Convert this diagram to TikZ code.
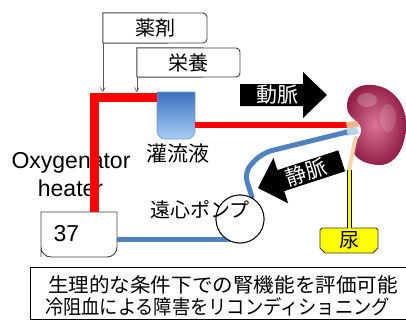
\documentclass[tikz,border=0pt]{standalone}
\usepackage{fontspec}
\usepackage{graphicx}
\setmainfont{Liberation Sans}
\newfontfamily\jp{Noto Sans CJK JP}
\usetikzlibrary{arrows.meta}

\definecolor{pipered}{HTML}{FF0000}
\definecolor{veinblue}{HTML}{4F81BD}
\definecolor{bagtop}{HTML}{3C70BE}
\definecolor{bagbot}{HTML}{A8CDF6}
\definecolor{bagedge}{HTML}{7A98C8}
\definecolor{kidin}{HTML}{DA7495}
\definecolor{kidout}{HTML}{921E47}
\definecolor{ureter}{HTML}{F4D2AE}
\definecolor{artbit}{HTML}{EDB48E}
\definecolor{veinbit}{HTML}{B5D4E6}
\definecolor{urineyel}{HTML}{FFFF00}
\definecolor{edgegray}{HTML}{404040}

\begin{document}
\begin{tikzpicture}[x=1pt,y=-1pt,
  jptext/.style={font=\jp\fontsize{20}{22}\selectfont, inner sep=0pt},
  entext/.style={font=\fontsize{23}{25}\selectfont, inner sep=0pt},
  boxline/.style={draw=edgegray, line width=0.9pt},
  feed/.style={draw=black!65, line width=0.6pt, -{Straight Barb[length=4pt,width=5pt]}},
  artery/.style={draw=pipered, line join=miter, line cap=butt},
  vein/.style={draw=veinblue, line width=5pt},
  bigarrow/.style={fill=black},
  whitetext/.style={font=\jp\fontsize{21}{22}\selectfont, text=white, inner sep=0pt}]
\useasboundingbox (0,0) rectangle (406,321);

% anchor points on the circuit
\coordinate (pipetop) at (94.5,92);
\coordinate (hilumA) at (348,125);
\coordinate (hilumV) at (347,132);
\coordinate (ureterend) at (349,170);

% additive boxes
\node[jptext, minimum width=104pt, minimum height=30pt] (drug) at (155,28) {薬剤};
\draw[boxline] (drug.south west) -- (drug.north west) -- (190,13)
  [rounded corners=4pt] -- (207,13) -- (207,43) -- (190,43) [sharp corners] -- (drug.south west);
\node[jptext, minimum width=103pt, minimum height=29pt] (nutr) at (188.5,62.5) {栄養};
\draw[boxline] (nutr.south west) -- (nutr.north west) -- (225,48)
  [rounded corners=4pt] -- (240,48) -- (240,77) -- (225,77) [sharp corners] -- (nutr.south west);
\draw[feed] (drug.south west) -- (drug.south west |- pipetop);
\draw[feed] (nutr.south west) -- (nutr.south west |- pipetop);

% oxygenator label
\node[entext, anchor=base] (oxlbl) at (71,168) {Oxygenator};
\node[entext, anchor=base] (heatlbl) at (70.5,196.5) {heater};

% perfusate bag
\node[minimum width=38pt, minimum height=47pt, inner sep=0pt] (bag) at (176,115.5) {};
\shade[top color=bagtop, bottom color=bagbot, draw=bagedge, line width=0.6pt]
  (157,92) -- (195,92) -- (195,120) [rounded corners=8pt] -- (195,139) -- (157,139)
  -- (157,120) [sharp corners] -- cycle;
\node[jptext, font=\jp\fontsize{21}{22}\selectfont] (bagl) at (178,153.5) {灌流液};

% oxygenator / heater box
\node[entext, minimum width=76pt, minimum height=45pt] (oxy) at (79,234.5) {};
\draw[boxline, fill=white] (41,212) -- (117,212) -- (117,247) [rounded corners=10pt]
  -- (117,257) -- (41,257) -- (41,247) [sharp corners] -- cycle;
\node[entext] (temp) at (66.5,234) {37};

% arterial line
\draw[artery, line width=9pt] (oxy.north -| pipetop) -- (pipetop |- 0,97.5) -- (bag.west |- 0,97.5);
\draw[artery, line width=6pt] (bag.east |- hilumA) -- (hilumA);

% kidney
\shade[inner color=kidin, outer color=kidout]
  (366,85) .. controls (390,83) and (406,102) .. (406,124)
  .. controls (406,148) and (395,166) .. (378,165)
  .. controls (362,164) and (351,156) .. (353,146)
  .. controls (355,140) and (361,138) .. (361,130)
  .. controls (361,122) and (352,120) .. (348,112)
  .. controls (344,100) and (352,86) .. (366,85) -- cycle;
\fill[white, opacity=0.22] (367,100) ellipse [x radius=10pt, y radius=7pt];
\fill[white, opacity=0.15] (388,118) ellipse [x radius=8pt, y radius=14pt];
\draw[ureter, line width=4pt] (356,136) -- (ureterend);
\fill[artbit] (346,122) -- (357,121) -- (359,127) -- (347,128.5) -- cycle;
\fill[veinbit] (344,129) -- (357,127.5) -- (359,134) -- (346,136) -- cycle;

% arterial direction arrow
\fill[bigarrow] (240,84) -- (303,84) -- (303,72) -- (327,95) -- (303,118) -- (303,106) -- (240,106) -- cycle;
\node[whitetext] (artlbl) at (277,95) {動脈};

% venous line and pump
\node[circle, draw=black, line width=0.9pt, minimum size=48pt, inner sep=0pt] (pump) at (240,219) {};
\draw[vein, rounded corners=10pt] (hilumV) -- (262,153) -- (244,172) -- (pump.60);
\draw[vein] (oxy.east |- 0,239) -- (pump.center |- 0,239);
\node[circle, draw=black, fill=white, line width=0.9pt, minimum size=48pt, inner sep=0pt] at (pump) {};
\fill (pump.60) circle (1.2pt);
\node[jptext] (pumpl) at (200,210) {遠心ポンプ};

% venous direction arrow
\fill[bigarrow] (258,188) -- (273.4,157.8) -- (277.4,170.1) -- (338.3,150.3) -- (345.1,171.3)
  -- (284.2,191.1) -- (288.2,203.4) -- cycle;
\node[whitetext, rotate=18] (venlbl) at (306,172) {静脈};

% urine collection
\draw[draw=black!80, line width=0.8pt, fill=urineyel] (322,228) -- (376,228) -- (378,230) -- (378,248)
  -- (373,253) -- (325,253) -- (320,248) -- (320,230) -- cycle;
\node[jptext] (urine) at (349,240.5) {尿};
\draw[black, line width=5pt] (urine.north |- 0,228) -- (ureterend);
\draw[urineyel, line width=3pt] (urine.north |- 0,228.5) -- ([yshift=0.5pt]ureterend);

% summary box
\node[draw=black, line width=1.3pt, minimum width=380pt, minimum height=52pt, anchor=north west, inner sep=0pt] (note) at (30,267) {};
\node[jptext] (noteA) at (223,284.5) {\resizebox{350pt}{\height}{生理的な条件下での腎機能を評価可能}};
\node[jptext] (noteB) at (217.5,307) {\resizebox{345pt}{\height}{冷阻血による障害をリコンディショニング}};
\end{tikzpicture}
\end{document}
